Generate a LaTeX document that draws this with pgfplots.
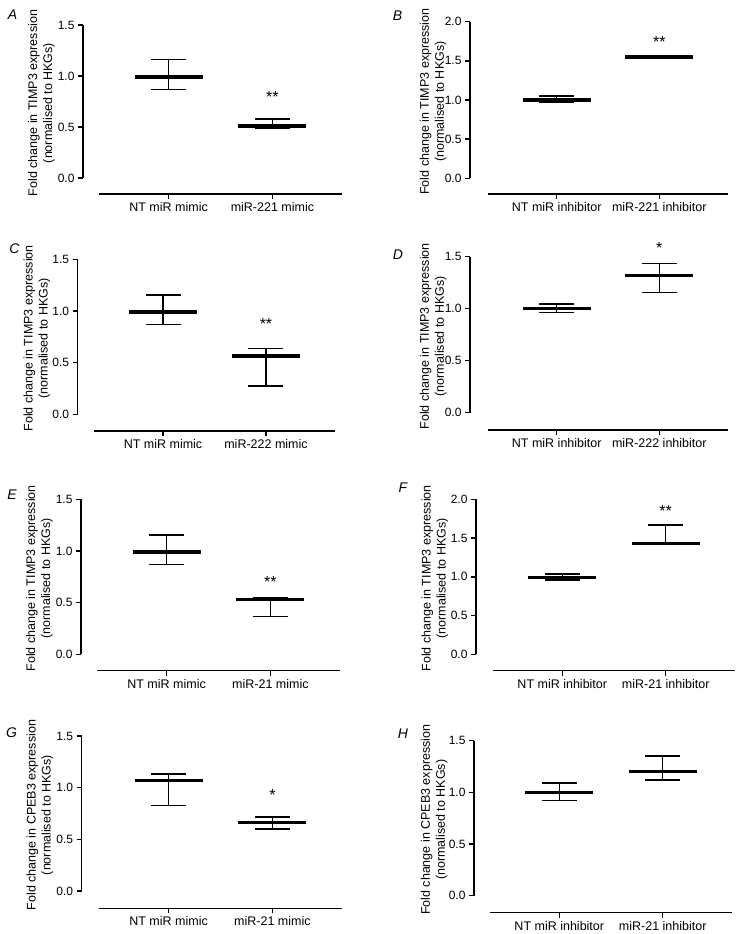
\documentclass[border=0pt]{standalone}
\usepackage{fontspec}
\setmainfont{Liberation Sans}
\usepackage{pgfplots}
\pgfplotsset{compat=1.18}

\pgfplotsset{
  panel/.style={
    scale only axis,
    xmin=-0.67, xmax=1.67, ymin=0,
    axis x line*=bottom, axis y line*=left,
    axis line style={line width=1.5pt, black},
    every tick/.style={line width=1.5pt, black},
    tick align=outside, major tick length=5pt,
    xtick={0,1}, ytick distance=0.5,
    /pgf/number format/assume math mode=true,
    yticklabel style={font=\fontsize{12}{14}\selectfont,
      /pgf/number format/fixed, /pgf/number format/fixed zerofill,
      /pgf/number format/precision=1},
    xticklabel style={font=\fontsize{12.5}{15}\selectfont},
    ylabel style={font=\fontsize{12.5}{15}\selectfont, align=center, anchor=center},
    clip=false,
  },
  mean/.style={black, only marks, mark=-, mark size=34pt,
    mark options={line width=3.3pt},
    error bars/.cd, y dir=both, y explicit,
    error bar style={line width=1.5pt},
    error mark options={rotate=90, mark size=17.5pt, line width=1.5pt}},
}

\newcommand{\timp}{Fold change in TIMP3 expression\\(normalised to HKGs)}
\newcommand{\cpeb}{Fold change in CPEB3 expression\\(normalised to HKGs)}
\newcommand{\stars}[2]{\node[font=\fontsize{16}{18}\selectfont, anchor=base, yshift=-9pt] at (axis cs:1,#1) {#2};}

\begin{document}
\begin{tikzpicture}
\path[use as bounding box] (0,0) rectangle (737pt,-934pt);

% A
\begin{axis}[panel, at={(99pt,-178pt)}, anchor=south west,
  width=243pt, height=153pt, ymax=1.5,
  axis x line shift=16pt, axis y line shift=16pt,
  xticklabels={NT miR mimic, miR-221 mimic},
  ylabel={\timp}, ylabel style={at={(axis description cs:-0.237,0.49)}}]
\addplot[mean] coordinates {(0,0.99) += (0,0.17) -= (0,0.12)
  (1,0.51) += (0,0.07) -= (0,0.02)};
\stars{0.83}{**}
\end{axis}
\node[font=\fontsize{14}{16}\selectfont\itshape] at (12.5pt,-14.5pt) {A};

% B
\begin{axis}[panel, at={(488pt,-178.3pt)}, anchor=south west,
  width=240pt, height=156.6pt, ymax=2.0,
  axis x line shift=15.7pt, axis y line shift=18pt,
  xticklabels={NT miR inhibitor, miR-221 inhibitor},
  ylabel={\timp}, ylabel style={at={(axis description cs:-0.229,0.49)}}]
\addplot[mean] coordinates {(0,1.00) += (0,0.05) -= (0,0.03)
  (1,1.55) += (0,0.005) -= (0,0.005)};
\stars{1.79}{**}
\end{axis}
\node[font=\fontsize{14}{16}\selectfont\itshape] at (397.5pt,-15.5pt) {B};

% C
\begin{axis}[panel, at={(94pt,-414.3pt)}, anchor=south west,
  width=241pt, height=155pt, ymax=1.5,
  axis x line shift=16.7pt, axis y line shift=16.3pt,
  xticklabels={NT miR mimic, miR-222 mimic},
  ylabel={\timp}, ylabel style={at={(axis description cs:-0.237,0.49)}}]
\addplot[mean] coordinates {(0,0.99) += (0,0.165) -= (0,0.12)
  (1,0.565) += (0,0.07) -= (0,0.29)};
\stars{0.906}{**}
\end{axis}
\node[font=\fontsize{14}{16}\selectfont\itshape] at (14.5pt,-248.5pt) {C};

% D
\begin{axis}[panel, at={(488pt,-412.7pt)}, anchor=south west,
  width=240pt, height=156pt, ymax=1.5,
  axis x line shift=17.3pt, axis y line shift=18pt,
  xticklabels={NT miR inhibitor, miR-222 inhibitor},
  ylabel={\timp}, ylabel style={at={(axis description cs:-0.229,0.49)}}]
\addplot[mean] coordinates {(0,1.00) += (0,0.045) -= (0,0.035)
  (1,1.32) += (0,0.115) -= (0,0.165)};
\stars{1.62}{*}
\end{axis}
\node[font=\fontsize{14}{16}\selectfont\itshape] at (398pt,-255pt) {D};

% E
\begin{axis}[panel, at={(97pt,-654.3pt)}, anchor=south west,
  width=243pt, height=155pt, ymax=1.5,
  axis x line shift=16.4pt, axis y line shift=16pt,
  xticklabels={NT miR mimic, miR-21 mimic},
  ylabel={\timp}, ylabel style={at={(axis description cs:-0.237,0.49)}}]
\addplot[mean] coordinates {(0,0.99) += (0,0.165) -= (0,0.12)
  (1,0.53) += (0,0.02) -= (0,0.165)};
\stars{0.736}{**}
\end{axis}
\node[font=\fontsize{14}{16}\selectfont\itshape] at (12pt,-494.5pt) {E};

% F
\begin{axis}[panel, at={(493pt,-654.3pt)}, anchor=south west,
  width=242pt, height=155pt, ymax=2.0,
  axis x line shift=16.4pt, axis y line shift=17pt,
  xticklabels={NT miR inhibitor, miR-21 inhibitor},
  ylabel={\timp}, ylabel style={at={(axis description cs:-0.240,0.49)}}]
\addplot[mean] coordinates {(0,0.995) += (0,0.04) -= (0,0.035)
  (1,1.43) += (0,0.24) -= (0,0.0)};
\stars{1.89}{**}
\end{axis}
\node[font=\fontsize{14}{16}\selectfont\itshape] at (403pt,-487.5pt) {F};

% G
\begin{axis}[panel, at={(99pt,-891pt)}, anchor=south west,
  width=243pt, height=155pt, ymax=1.5,
  axis x line shift=17.3pt, axis y line shift=17.3pt,
  xticklabels={NT miR mimic, miR-21 mimic},
  ylabel={\cpeb}, ylabel style={at={(axis description cs:-0.243,0.49)}}]
\addplot[mean] coordinates {(0,1.067) += (0,0.065) -= (0,0.24)
  (1,0.66) += (0,0.055) -= (0,0.06)};
\stars{0.96}{*}
\end{axis}
\node[font=\fontsize{14}{16}\selectfont\itshape] at (11.5pt,-732.5pt) {G};

% H
\begin{axis}[panel, at={(490pt,-895.7pt)}, anchor=south west,
  width=242pt, height=155pt, ymax=1.5,
  axis x line shift=17pt, axis y line shift=16pt,
  xticklabels={NT miR inhibitor, miR-21 inhibitor},
  ylabel={\cpeb}, ylabel style={at={(axis description cs:-0.231,0.49)}}]
\addplot[mean] coordinates {(0,1.00) += (0,0.09) -= (0,0.08)
  (1,1.205) += (0,0.145) -= (0,0.085)};
\end{axis}
\node[font=\fontsize{14}{16}\selectfont\itshape] at (403pt,-733.5pt) {H};

\end{tikzpicture}
\end{document}
